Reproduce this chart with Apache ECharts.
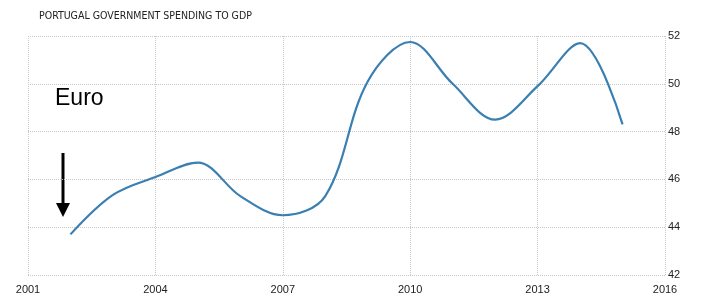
<!DOCTYPE html>
<html><head><meta charset="utf-8">
<script src="https://cdn.jsdelivr.net/npm/echarts@6/dist/echarts.min.js"></script>
<style>html,body{margin:0;padding:0;background:#fff}#c{width:701px;height:308px}</style>
</head><body><div id="c"></div>
<script>
const years = [2002,2003,2004,2005,2006,2007,2008,2009,2010,2011,2012,2013,2014,2015];
const spending = [43.7,45.35,46.1,46.7,45.3,44.5,45.3,50.1,51.75,50.0,48.5,49.9,51.7,48.3];
const titleText = 'PORTUGAL GOVERNMENT SPENDING TO GDP';
const annotation = 'Euro';

const chart = echarts.init(document.getElementById('c'), null, {renderer:'canvas'});
chart.setOption({
  animation:false,
  backgroundColor:'#fff',
  title:{text:titleText,left:34,top:6,textStyle:{fontFamily:'DejaVu Sans Condensed',fontSize:10.5,fontWeight:'normal',color:'#222'}},
  grid:{left:28,right:36,top:36,bottom:33},
  xAxis:{type:'value',min:2001,max:2016,interval:3,
    axisLine:{show:false},axisTick:{show:false},
    axisLabel:{color:'#222',fontFamily:'Liberation Sans',fontSize:11,margin:9,formatter:v=>String(v)},
    splitLine:{show:true,lineStyle:{type:'dotted',color:'#c8c8c8',width:1}}},
  yAxis:{type:'value',position:'right',min:42,max:52,interval:2,
    axisLine:{show:false},axisTick:{show:false},
    axisLabel:{color:'#222',fontFamily:'Liberation Sans',fontSize:11,margin:3,formatter:v=>String(v)},
    splitLine:{show:true,lineStyle:{type:'dotted',color:'#c8c8c8',width:1}}},
  series:[{type:'line',data:years.map((y,i)=>[y,spending[i]]),smooth:0.35,showSymbol:false,
    lineStyle:{color:'#3a7fb2',width:2.2}}],
  graphic:[
    {type:'text',left:55,top:87,style:{text:annotation,fontFamily:'Liberation Sans',fontSize:23,fill:'#000'}},
    {type:'line',shape:{x1:63,y1:153,x2:63,y2:205},style:{stroke:'#000',lineWidth:3}},
    {type:'polygon',shape:{points:[[56,203],[70,203],[63,217]]},style:{fill:'#000'}}
  ]
});
</script></body></html>
